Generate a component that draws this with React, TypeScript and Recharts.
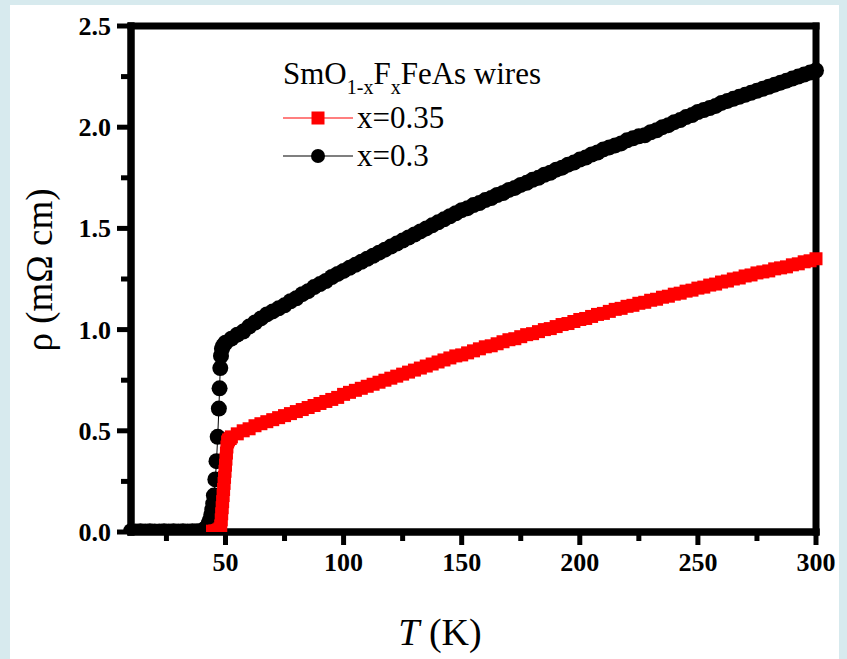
import React from "react";
import { LineChart, Line, XAxis, YAxis, Legend, Label, ReferenceLine } from "recharts";

// T (K) and rho (mOhm cm)
const tempTransition030 = [
  10, 12, 14, 16, 18, 20, 22, 24, 26, 28, 30, 32, 34, 36, 38, 40,
  41, 41.8, 42.5, 43, 43.5, 44, 44.4, 44.8, 45.1, 45.7, 46.2, 46.7, 47.2, 47.5, 47.8, 48.1, 48.5, 49, 50,
];
const rhoTransition030 = [
  0.004, 0.003, 0.004, 0.003, 0.004, 0.003, 0.003, 0.004, 0.003, 0.004, 0.003, 0.004, 0.003, 0.004, 0.004, 0.006,
  0.01, 0.02, 0.03, 0.045, 0.06, 0.085, 0.11, 0.14, 0.18, 0.26, 0.35, 0.47, 0.61, 0.71, 0.81, 0.87, 0.905, 0.92, 0.935,
];

const tempTransition035 = [
  44.5, 45.5, 46.5, 47, 47.6, 48, 48.2, 48.4, 48.6, 48.8, 49, 49.2, 49.4, 49.6, 49.8, 50, 50.2, 50.4, 50.6, 50.9, 51.3, 52,
];
const rhoTransition035 = [
  0.004, 0.005, 0.007, 0.01, 0.015, 0.03, 0.06, 0.09, 0.12, 0.15, 0.18, 0.21, 0.24, 0.27, 0.3, 0.33, 0.36, 0.39, 0.42, 0.445, 0.455, 0.462,
];

const tempNormal = [
  52.5, 55, 57.5, 60, 62.5, 65, 67.5, 70, 72.5, 75,
  77.5, 80, 82.5, 85, 87.5, 90, 92.5, 95, 97.5, 100,
  102.5, 105, 107.5, 110, 112.5, 115, 117.5, 120, 122.5, 125,
  127.5, 130, 132.5, 135, 137.5, 140, 142.5, 145, 147.5, 150,
  152.5, 155, 157.5, 160, 162.5, 165, 167.5, 170, 172.5, 175,
  177.5, 180, 182.5, 185, 187.5, 190, 192.5, 195, 197.5, 200,
  202.5, 205, 207.5, 210, 212.5, 215, 217.5, 220, 222.5, 225,
  227.5, 230, 232.5, 235, 237.5, 240, 242.5, 245, 247.5, 250,
  252.5, 255, 257.5, 260, 262.5, 265, 267.5, 270, 272.5, 275,
  277.5, 280, 282.5, 285, 287.5, 290, 292.5, 295, 297.5, 300,
];
const rhoNormal030 = [
  0.955, 0.975, 0.99, 1.015, 1.035, 1.055, 1.075, 1.09, 1.105, 1.12,
  1.14, 1.155, 1.175, 1.19, 1.21, 1.225, 1.24, 1.26, 1.275, 1.29,
  1.305, 1.32, 1.335, 1.35, 1.365, 1.38, 1.395, 1.41, 1.425, 1.44,
  1.455, 1.47, 1.485, 1.5, 1.515, 1.53, 1.545, 1.56, 1.575, 1.59,
  1.6, 1.615, 1.625, 1.64, 1.65, 1.665, 1.675, 1.69, 1.7, 1.715,
  1.725, 1.74, 1.75, 1.765, 1.775, 1.79, 1.8, 1.815, 1.825, 1.84,
  1.85, 1.865, 1.875, 1.89, 1.9, 1.91, 1.92, 1.935, 1.945, 1.955,
  1.96, 1.975, 1.985, 2.0, 2.01, 2.025, 2.035, 2.05, 2.06, 2.075,
  2.085, 2.095, 2.105, 2.12, 2.13, 2.14, 2.15, 2.16, 2.17, 2.18,
  2.19, 2.2, 2.21, 2.22, 2.23, 2.24, 2.25, 2.26, 2.27, 2.28,
];
const rhoNormal035 = [
  0.47, 0.485, 0.5, 0.51, 0.525, 0.535, 0.545, 0.555, 0.565, 0.575,
  0.585, 0.595, 0.605, 0.615, 0.625, 0.635, 0.645, 0.655, 0.665, 0.68,
  0.69, 0.7, 0.71, 0.72, 0.73, 0.74, 0.75, 0.76, 0.77, 0.78,
  0.79, 0.8, 0.81, 0.82, 0.83, 0.84, 0.85, 0.86, 0.87, 0.875,
  0.885, 0.895, 0.905, 0.915, 0.92, 0.93, 0.94, 0.95, 0.955, 0.965,
  0.975, 0.98, 0.99, 1.0, 1.005, 1.015, 1.025, 1.03, 1.04, 1.05,
  1.055, 1.065, 1.075, 1.08, 1.09, 1.1, 1.105, 1.115, 1.12, 1.13,
  1.135, 1.145, 1.15, 1.16, 1.165, 1.175, 1.18, 1.19, 1.195, 1.205,
  1.21, 1.22, 1.225, 1.235, 1.24, 1.25, 1.255, 1.265, 1.27, 1.28,
  1.285, 1.29, 1.3, 1.305, 1.31, 1.32, 1.325, 1.335, 1.34, 1.35,
];

const xTicks = [25, 50, 75, 100, 125, 150, 175, 200, 225, 250, 275, 300];
const yTicks = [0, 0.25, 0.5, 0.75, 1, 1.25, 1.5, 1.75, 2, 2.25, 2.5];

const RED = "#ff0000";
const BLACK = "#000000";
const SERIF = "'Liberation Serif', 'Times New Roman', serif";

const toRows = (temps: number[], rhos: number[]) => temps.map((t, i) => ({ T: t, rho: rhos[i] }));
const data030 = toRows([...tempTransition030, ...tempNormal], [...rhoTransition030, ...rhoNormal030]);
const data035 = toRows([...tempTransition035, ...tempNormal], [...rhoTransition035, ...rhoNormal035]);

const XTick = (props: any) => {
  const { x, y, payload } = props;
  const v = payload.value as number;
  const major = v % 50 === 0;
  return (
    <g>
      <line x1={x} x2={x} y1={y} y2={y + (major ? 13 : 9)} stroke="#000" strokeWidth={5} />
      {major && (
        <text x={x} y={y + 39} textAnchor="middle" fontFamily={SERIF} fontWeight="bold" fontSize={26} fill="#000">
          {v}
        </text>
      )}
    </g>
  );
};

const YTick = (props: any) => {
  const { x, y, payload } = props;
  const v = payload.value as number;
  const major = Math.abs(v * 2 - Math.round(v * 2)) < 1e-6;
  return (
    <g>
      <line x1={x - (major ? 14 : 10)} x2={x} y1={y} y2={y} stroke="#000" strokeWidth={5} />
      {major && (
        <text x={x - 20} y={y} dy={9} textAnchor="end" fontFamily={SERIF} fontWeight="bold" fontSize={26} fill="#000">
          {v.toFixed(1)}
        </text>
      )}
    </g>
  );
};

const Square = (props: any) => {
  const { cx, cy, index } = props;
  if (cx == null || cy == null) return <g key={`sq-${index}`} />;
  return <rect key={`sq-${index}`} x={cx - 6.5} y={cy - 6.5} width={13} height={13} fill={RED} />;
};

const sub: React.CSSProperties = { fontSize: 20, position: "relative", top: 10 };

const LegendBox = (props: any) => {
  const items = [...(props.payload || [])].reverse();
  return (
    <div style={{ fontFamily: SERIF, color: "#000", whiteSpace: "nowrap" }}>
      <div style={{ fontSize: 31, lineHeight: "38px", marginBottom: 3 }}>
        SmO<span style={sub}>1-x</span>F<span style={sub}>x</span>FeAs wires
      </div>
      {items.map((it: any) => (
        <div key={it.value} style={{ display: "flex", alignItems: "center", height: 38, fontSize: 31 }}>
          <svg width={74} height={20} style={{ display: "block" }}>
            <line x1={0} x2={70} y1={10} y2={10} stroke={it.color} strokeWidth={1.2} />
            {it.color === RED ? (
              <rect x={28.5} y={3.5} width={13} height={13} fill={RED} />
            ) : (
              <circle cx={35} cy={10} r={7} fill={BLACK} />
            )}
          </svg>
          <span>{it.value}</span>
        </div>
      ))}
    </div>
  );
};

const frame = { stroke: "#000", strokeWidth: 7, strokeLinecap: "square" as const };

export default function App() {
  return (
    <div style={{ position: "fixed", left: 0, top: 0, width: 847, height: 659, background: "#d7eaee" }}>
      <div style={{ position: "absolute", left: 10, top: 5, width: 829, height: 654, background: "#ffffff" }} />
      <div style={{ position: "absolute", left: 0, top: 0 }}>
        <LineChart width={847} height={659} margin={{ top: 26, right: 31, bottom: 0, left: 0 }}>
          <XAxis
            dataKey="T"
            type="number"
            domain={[10, 300]}
            ticks={xTicks}
            interval={0}
            height={127}
            tickSize={0}
            tickMargin={0}
            tickLine={false}
            tick={(p: any) => <XTick {...p} />}
            stroke="#000"
            axisLine={frame}
          >
            <Label
              content={() => (
                <text x={440} y={645} textAnchor="middle" fontFamily={SERIF} fontSize={38} fill="#000">
                  <tspan fontStyle="italic">T</tspan> (K)
                </text>
              )}
            />
          </XAxis>
          <YAxis
            type="number"
            domain={[0, 2.5]}
            ticks={yTicks}
            interval={0}
            allowDataOverflow
            width={131}
            tickSize={0}
            tickMargin={0}
            tickLine={false}
            tick={(p: any) => <YTick {...p} />}
            stroke="#000"
            axisLine={frame}
          >
            <Label
              content={() => (
                <text
                  x={52}
                  y={270}
                  transform="rotate(-90, 52, 270)"
                  textAnchor="middle"
                  fontFamily={SERIF}
                  fontSize={37}
                  fill="#000"
                >
                  ρ (mΩ cm)
                </text>
              )}
            />
          </YAxis>
          <Line
            data={data030}
            dataKey="rho"
            name="x=0.3"
            type="linear"
            stroke={BLACK}
            strokeWidth={1}
            dot={{ r: 8, fill: BLACK, stroke: "none" }}
            activeDot={false}
            isAnimationActive={false}
          />
          <Line
            data={data035}
            dataKey="rho"
            name="x=0.35"
            type="linear"
            stroke={RED}
            strokeWidth={1}
            dot={(p: any) => <Square {...p} />}
            activeDot={false}
            isAnimationActive={false}
          />
          <ReferenceLine y={0} {...frame} />
          <ReferenceLine x={10} {...frame} />
          <ReferenceLine y={2.5} {...frame} />
          <ReferenceLine x={300} {...frame} />
          <Legend
            layout="horizontal"
            verticalAlign="middle"
            align="center"
            content={(p: any) => <LegendBox {...p} />}
            wrapperStyle={{ left: 283, top: 55, width: 360, height: "auto" }}
          />
        </LineChart>
      </div>
    </div>
  );
}
